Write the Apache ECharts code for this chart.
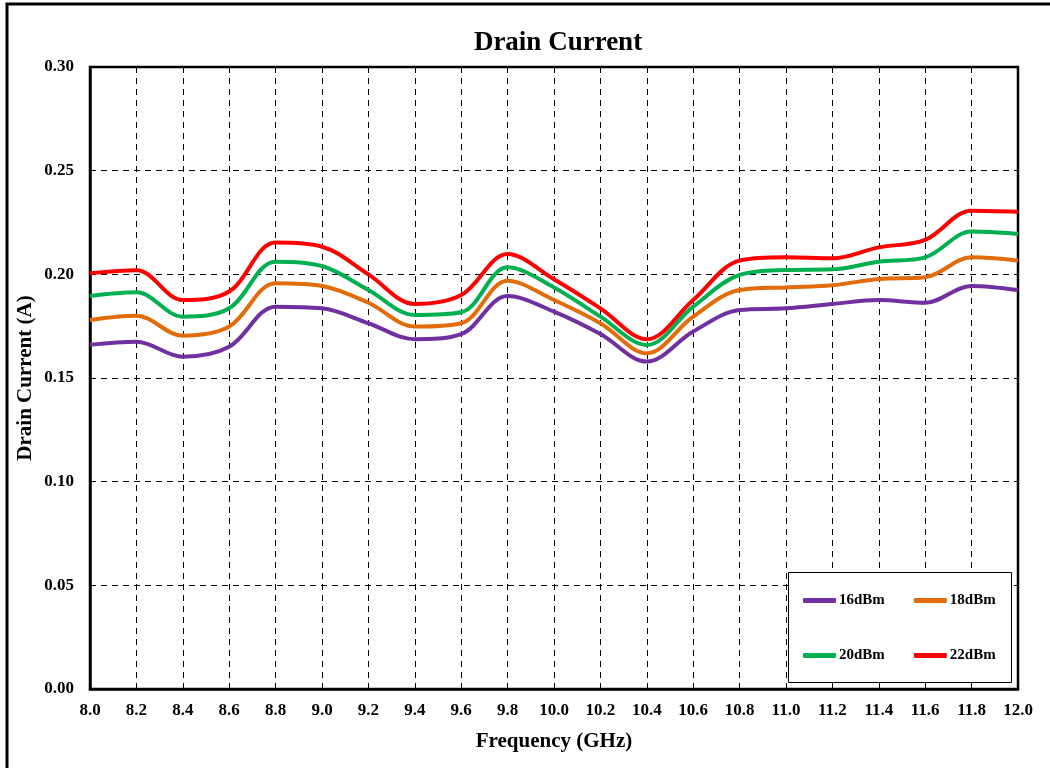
<!DOCTYPE html>
<html><head><meta charset="utf-8">
<script src="https://cdn.jsdelivr.net/npm/echarts@6/dist/echarts.min.js"></script>
<style>html,body{margin:0;padding:0;background:#fff}#c{width:1050px;height:768px}</style>
</head><body><div id="c"></div>
<script>
const freqs = [8.0,8.2,8.4,8.6,8.8,9.0,9.2,9.4,9.6,9.8,10.0,10.2,10.4,10.6,10.8,11.0,11.2,11.4,11.6,11.8,12.0];
const s16 = [0.166,0.1675,0.1603,0.1651,0.1844,0.1836,0.1764,0.1687,0.1712,0.1896,0.1820,0.1712,0.1579,0.1724,0.1828,0.1836,0.1857,0.1876,0.1863,0.1944,0.1924];
const s18 = [0.178,0.1800,0.1704,0.1748,0.1957,0.1944,0.1863,0.1748,0.1764,0.1969,0.1876,0.1764,0.1619,0.1796,0.1924,0.1937,0.1947,0.1978,0.1986,0.2082,0.2066];
const s20 = [0.1896,0.1913,0.1796,0.1836,0.2061,0.2040,0.1924,0.1804,0.1817,0.2034,0.1937,0.1796,0.1659,0.1844,0.1997,0.2021,0.2024,0.2061,0.2082,0.2206,0.2195];
const s22 = [0.2005,0.2020,0.1876,0.1917,0.2153,0.2133,0.2000,0.1857,0.1900,0.2098,0.1976,0.1836,0.1687,0.1876,0.2066,0.2082,0.2077,0.2130,0.2166,0.2307,0.2302];
const seriesNames = ['16dBm','18dBm','20dBm','22dBm'];
const seriesColors = ['#7030A0','#E36C0A','#00B050','#FF0000'];
const allData = [s16,s18,s20,s22];

const FONT = '"Liberation Serif","Times New Roman",serif';
const chart = echarts.init(document.getElementById('c'));
const series = allData.map((d,i)=>({
  name: seriesNames[i], type:'line', smooth:0.35, symbol:'none',
  data: freqs.map((f,j)=>[f,d[j]]),
  lineStyle:{width:4,color:seriesColors[i]}, itemStyle:{color:seriesColors[i]}, z:3
}));
const legendCommon = {
  icon:'roundRect', itemWidth:33, itemHeight:5, itemGap:29, padding:0,
  textStyle:{fontFamily:FONT,fontWeight:'bold',fontSize:15,color:'#000',padding:[0,0,0,-2]},
  orient:'horizontal'
};
chart.setOption({
  animation:false,
  backgroundColor:'#fff',
  title:{text:'Drain Current',left:553,top:25,textAlign:'center',
    textStyle:{fontFamily:FONT,fontWeight:'bold',fontSize:27,color:'#000'}},
  grid:{left:90,top:67,width:928,height:622,containLabel:false,
    show:true,borderColor:'#000',borderWidth:2.5,backgroundColor:'transparent'},
  xAxis:{type:'value',min:8.0,max:12.0,interval:0.2,
    name:'Frequency (GHz)',nameLocation:'middle',nameGap:42,
    nameTextStyle:{fontFamily:FONT,fontWeight:'bold',fontSize:21,color:'#000'},
    axisLine:{show:true,lineStyle:{color:'#000',width:2.5}},
    axisTick:{show:false},
    axisLabel:{fontFamily:FONT,fontWeight:'bold',fontSize:17,color:'#000',margin:13,
      formatter:v=>v.toFixed(1)},
    splitLine:{show:true,lineStyle:{color:'#000',type:[6,5],width:1}}},
  yAxis:{type:'value',min:0,max:0.30,interval:0.05,
    name:'Drain Current (A)',nameLocation:'middle',nameGap:54,nameRotate:90,nameMoveOverlap:false,
    nameTextStyle:{fontFamily:FONT,fontWeight:'bold',fontSize:21,color:'#000'},
    axisLine:{show:true,lineStyle:{color:'#000',width:2.5}},
    axisTick:{show:false},
    axisLabel:{fontFamily:FONT,fontWeight:'bold',fontSize:17,color:'#000',margin:16,
      formatter:v=>v.toFixed(2)},
    splitLine:{show:true,lineStyle:{color:'#000',type:[6,5],width:1}}},
  legend:[
    Object.assign({},legendCommon,{data:['16dBm','18dBm'],left:803,top:593}),
    Object.assign({},legendCommon,{data:['20dBm','22dBm'],left:803,top:648})
  ],
  graphic:[
    {type:'rect',z:10,shape:{x:7,y:4,width:1060,height:800},
      style:{fill:'none',stroke:'#000',lineWidth:3}},
    {type:'rect',z:2,shape:{x:788.5,y:572.5,width:223,height:110},
      style:{fill:'#fff',stroke:'#000',lineWidth:1}}
  ],
  series:series
});
</script></body></html>
